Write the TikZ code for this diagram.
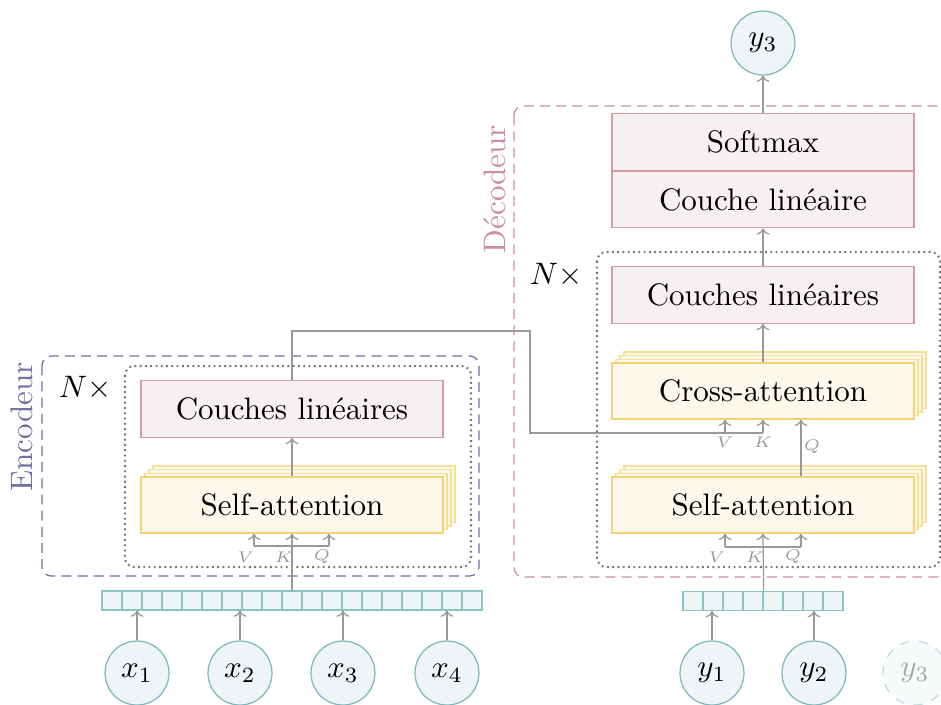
\documentclass[tikz,border=0pt]{standalone}
\usetikzlibrary{arrows.meta}
\definecolor{tealS}{HTML}{7DB8BB}
\definecolor{tealF}{HTML}{EFF5F7}
\definecolor{cellS}{HTML}{8CC3C5}
\definecolor{cellF}{HTML}{EEF5F6}
\definecolor{pinkS}{HTML}{D49AA6}
\definecolor{pinkF}{HTML}{F7F0F0}
\definecolor{yelS}{HTML}{F3D470}
\definecolor{yelF}{HTML}{FDF8EC}
\definecolor{arrG}{HTML}{999999}
\definecolor{dotG}{HTML}{777777}
\definecolor{purpD}{HTML}{6F6FA6}
\definecolor{pinkD}{HTML}{CD8C9A}
\begin{document}
\begin{tikzpicture}[x=0.322pt,y=-0.322pt,
  linbox/.style={draw=pinkS, fill=pinkF, minimum width=97.2pt, minimum height=18.2pt, inner sep=0pt},
  attbox/.style={draw=yelS, fill=yelF, minimum width=97.2pt, minimum height=18.1pt, inner sep=0pt},
  attback/.style={attbox, draw=yelS!75},
  tok/.style={circle, draw=tealS, fill=tealF, minimum size=20.6pt, inner sep=0pt},
  ghost/.style={circle, draw=tealS!50, fill=tealF!50, dashed, text=black!35, minimum size=20.6pt, inner sep=0pt},
  cell/.style={draw=cellS, fill=cellF, minimum width=6.44pt, minimum height=6.1pt, inner sep=0pt},
  arr/.style={draw=arrG, -{To[length=2pt,width=4.2pt]}},
  wire/.style={draw=arrG},
  lab/.style={text=arrG, font=\tiny, inner sep=0pt},
  encframe/.style={draw=purpD, dash pattern=on 3.2pt off 2pt, rounded corners=3pt},
  decframe/.style={draw=pinkD, dash pattern=on 3.2pt off 2pt, rounded corners=3pt},
  stackframe/.style={draw=dotG, line width=0.65pt, dash pattern=on 0.6pt off 1.1pt, rounded corners=3pt}
]
\useasboundingbox (0,0) rectangle (941,704);

% ---------------- frames
\draw[encframe] (42,356) rectangle (479,576);
\draw[stackframe] (125,366) rectangle (471,567);
\draw[decframe] (514,106) rectangle (960,577);
\draw[stackframe] (597,252) rectangle (940,567);

\node[text=purpD, rotate=90] (enctitle) at (22,427) {Encodeur};
\node[text=pinkD, rotate=90] (dectitle) at (495,189) {Décodeur};
\node (encN) at (85,388) {$N\times$};
\node (decN) at (556,275) {$N\times$};

% ---------------- encoder
\foreach \k in {3,2,1} \node[attback] (encSa\k) at ({292+4*\k},{505-3.6*\k}) {};
\node[attbox] (encSa) at (292,505) {Self-attention};
\node[linbox] (encL) at (292,409) {Couches linéaires};
\draw[arr] (encSa.north) -- (encL.south);

\foreach \i in {1,...,19} \node[cell] (e\i) at ({112+20*(\i-1)},600.5) {};

\node[tok] (x1) at (137,673) {$x_1$};
\node[tok] (x2) at (240,673) {$x_2$};
\node[tok] (x3) at (343,673) {$x_3$};
\node[tok] (x4) at (447,673) {$x_4$};
\foreach \n in {x1,x2,x3,x4} \draw[arr] (\n.north) -- (\n.north |- e1.south);

\draw[arr] (e10.north) -- (encSa.south);
\coordinate (encV) at (254,546);
\coordinate (encQ) at (329,546);
\draw[wire] (encV) -- (encQ);
\draw[arr] (encV) -- (encV |- encSa.south);
\draw[arr] (encQ) -- (encQ |- encSa.south);
\node[lab] (encVl) at (246,557) {$V$};
\node[lab] (encKl) at (284,557) {$K$};
\node[lab] (encQl) at (322,557) {$Q$};

% ---------------- decoder
\foreach \k in {3,2,1} \node[attback] (decSa\k) at ({763+4*\k},{505-3.6*\k}) {};
\node[attbox] (decSa) at (763,505) {Self-attention};
\foreach \k in {3,2,1} \node[attback] (cross\k) at ({763+4*\k},{391-3.6*\k}) {};
\node[attbox] (cross) at (763,391) {Cross-attention};
\node[linbox] (decL) at (763,295) {Couches linéaires};
\node[linbox] (decCL) at (763,199.5) {Couche linéaire};
\node[linbox, minimum height=18.4pt] (soft) at (763,142) {Softmax};
\node[tok] (yout) at (763,43) {$y_3$};

\draw[arr] (cross.north) -- (decL.south);
\draw[arr] (decL.north) -- (decCL.south);
\draw[arr] (soft.north) -- (yout.south);

\foreach \i in {1,...,8} \node[cell] (d\i) at ({693+20*(\i-1)},601) {};
\node[tok] (y1) at (712,673) {$y_1$};
\node[tok] (y2) at (814,673) {$y_2$};
\node[ghost] (y3b) at (915,673) {$y_3$};
\draw[arr] (y1.north) -- (y1.north |- d1.south);
\draw[arr] (y2.north) -- (y2.north |- d1.south);

\draw[arr] (d4.north east) -- (decSa.south);
\coordinate (decV) at (725,547);
\coordinate (decQ) at (801,547);
\draw[wire] (decV) -- (decQ);
\draw[arr] (decV) -- (decV |- decSa.south);
\draw[arr] (decQ) -- (decQ |- decSa.south);
\node[lab] (decVl) at (717,557) {$V$};
\node[lab] (decKl) at (755,557) {$K$};
\node[lab] (decQl) at (793,557) {$Q$};

% cross-attention inputs
\coordinate (bendA) at (530,331);
\coordinate (crossK) at (763,433);
\coordinate (crossV) at (725,433);
\coordinate (crossQ) at (801,433);
\draw[wire] (encL.north) |- (bendA) |- (crossK);
\draw[arr] (crossK) -- (crossK |- cross.south);
\draw[arr] (crossV) -- (crossV |- cross.south);
\draw[arr] (decSa.north -| crossQ) -- (crossQ |- cross.south);
\node[lab] (crVl) at (725,442) {$V$};
\node[lab] (crKl) at (763,442) {$K$};
\node[lab] (crQl) at (812,447) {$Q$};
\end{tikzpicture}
\end{document}
